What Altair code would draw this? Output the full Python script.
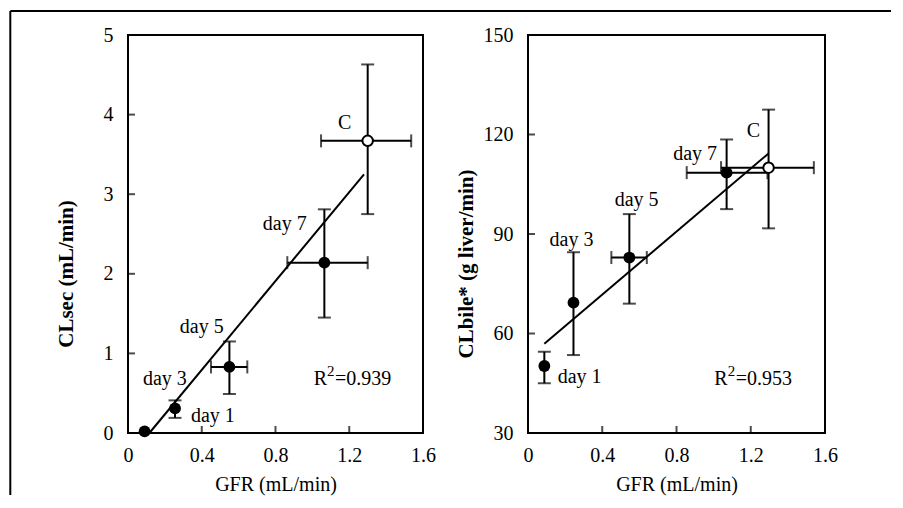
import altair as alt
import pandas as pd

FONT = "Liberation Serif, Times New Roman, Times, serif"

# ---------------- data ----------------
labels = ["day 1", "day 3", "day 5", "day 7", "C"]

# left panel: CLsec vs GFR
gfr_l = [0.09, 0.255, 0.55, 1.065, 1.30]
gfr_l_lo = [None, None, 0.45, 0.864, 1.047]
gfr_l_hi = [None, None, 0.647, 1.30, 1.536]
clsec = [0.02, 0.31, 0.83, 2.14, 3.67]
clsec_lo = [None, 0.19, 0.49, 1.45, 2.75]
clsec_hi = [None, 0.41, 1.15, 2.81, 4.63]
fit_l_x = [0.116, 1.28]
fit_l_y = [0.0, 3.25]
lab_l_text = ["C", "day 7", "day 5", "day 3", "day 1"]
lab_l_x = [1.175, 0.85, 0.40, 0.20, 0.46]
lab_l_y = [3.9, 2.63, 1.33, 0.68, 0.21]
r2_l = {"val": "=0.939", "x": 1.21, "y": 0.68}

# right panel: CLbile* vs GFR
gfr_r = [0.088, 0.245, 0.546, 1.07, 1.296]
gfr_r_lo = [None, None, 0.449, 0.855, 1.04]
gfr_r_hi = [None, None, 0.64, 1.29, 1.54]
clbile = [50.2, 69.3, 82.9, 108.5, 110.0]
clbile_lo = [45.0, 53.5, 69.0, 97.5, 91.7]
clbile_hi = [54.5, 84.5, 96.0, 118.5, 127.5]
fit_r_x = [0.088, 1.296]
fit_r_y = [56.9, 114.3]
lab_r_text = ["C", "day 7", "day 5", "day 3", "day 1"]
lab_r_x = [1.215, 0.90, 0.585, 0.234, 0.278]
lab_r_y = [121.2, 114.0, 100.4, 88.3, 46.9]
r2_r = {"val": "=0.953", "x": 1.205, "y": 46.3}

x_ticks = [0, 0.4, 0.8, 1.2, 1.6]
x_inner_ticks = [0.4, 0.8, 1.2]
y_ticks_l = [0, 1, 2, 3, 4, 5]
y_inner_ticks_l = [1, 2, 3, 4]
y_ticks_r = [30, 60, 90, 120, 150]
y_inner_ticks_r = [60, 90, 120]

W_L, W_R, H = 295, 297, 398


def panel(gx, gxlo, gxhi, yv, ylo, yhi, fx, fy, lt, lx, ly, r2,
          ydom, yticks, yinner, ytitle, title_y, width, frame):
    pts = pd.DataFrame({"label": labels, "x": gx, "xlo": gxlo, "xhi": gxhi,
                        "y": yv, "lo": ylo, "hi": yhi})
    fit = pd.DataFrame({"x": fx, "y": fy})
    lab = pd.DataFrame({"t": lt, "x": lx, "y": ly})
    r2df = pd.DataFrame([r2])

    xaxis = alt.Axis(values=x_ticks, ticks=False, tickSize=0, domain=False, grid=False,
                     labelExpr="datum.value == 0 ? '0' : format(datum.value, '.1f')",
                     labelFont=FONT, labelFontSize=20, labelColor="black",
                     labelPadding=12, labelFlush=False,
                     titleFont=FONT, titleFontSize=20, titleFontWeight="normal",
                     titleColor="black", titleY=51, titleBaseline="middle")
    yaxis = alt.Axis(values=yticks, ticks=False, tickSize=0, domain=False, grid=False,
                     labelFont=FONT, labelFontSize=20, labelColor="black",
                     labelPadding=15,
                     titleFont=FONT, titleFontSize=21, titleFontWeight="bold",
                     titleColor="black", titleX=-62, titleY=title_y,
                     titleAngle=270, titleAlign="center", titleBaseline="middle")
    xs = alt.Scale(domain=[0, 1.6], nice=False, zero=False)
    ys = alt.Scale(domain=ydom, nice=False, zero=False)

    def X(f):
        return alt.X(f"{f}:Q", scale=xs, axis=xaxis, title="GFR (mL/min)")

    def Y(f):
        return alt.Y(f"{f}:Q", scale=ys, axis=yaxis, title=ytitle)

    line = alt.Chart(fit).mark_line(color="black", strokeWidth=2).encode(x=X("x"), y=Y("y"))

    yerr = alt.Chart(pts).transform_filter("isValid(datum.lo)").mark_rule(
        color="black", strokeWidth=2).encode(x=X("x"), y=Y("lo"), y2="hi:Q")
    ycaps = alt.Chart(pts).transform_filter("isValid(datum.lo)").transform_fold(
        ["lo", "hi"], as_=["k", "v"]).mark_tick(
        orient="horizontal", color="black", size=13, thickness=2).encode(x=X("x"), y=Y("v"))

    xerr = alt.Chart(pts).transform_filter("isValid(datum.xlo)").mark_rule(
        color="black", strokeWidth=2).encode(x=X("xlo"), x2="xhi:Q", y=Y("y"))
    xcaps = alt.Chart(pts).transform_filter("isValid(datum.xlo)").transform_fold(
        ["xlo", "xhi"], as_=["k", "v"]).mark_tick(
        orient="vertical", color="black", size=13, thickness=2).encode(x=X("v"), y=Y("y"))

    filled = alt.Chart(pts).transform_filter("datum.label != 'C'").mark_point(
        shape="circle", filled=True, color="black", size=140, opacity=1).encode(x=X("x"), y=Y("y"))
    openc = alt.Chart(pts).transform_filter("datum.label == 'C'").mark_point(
        shape="circle", filled=True, fill="white", stroke="black", strokeWidth=2,
        size=110, opacity=1).encode(x=X("x"), y=Y("y"))

    text = alt.Chart(lab).mark_text(font=FONT, fontSize=20, color="black",
                                    align="center", baseline="middle").encode(
        x=X("x"), y=Y("y"), text="t:N")

    r_base = alt.Chart(r2df).mark_text(font=FONT, fontSize=20, color="black",
                                       align="right", baseline="middle", dx=-24).encode(
        x=X("x"), y=Y("y"), text=alt.value("R"))
    r_sup = alt.Chart(r2df).mark_text(font=FONT, fontSize=15, color="black",
                                      align="left", baseline="middle", dx=-24, dy=-8).encode(
        x=X("x"), y=Y("y"), text=alt.value("2"))
    r_val = alt.Chart(r2df).mark_text(font=FONT, fontSize=20, color="black",
                                      align="left", baseline="middle", dx=-16).encode(
        x=X("x"), y=Y("y"), text="val:N")

    yt = alt.Chart(pd.DataFrame({"v": yinner})).mark_tick(
        orient="horizontal", color="black", size=8, thickness=2, xOffset=3).encode(
        x=alt.value(0), y=Y("v"))
    xt = alt.Chart(pd.DataFrame({"v": x_inner_ticks})).mark_tick(
        orient="vertical", color="black", size=8, thickness=2, yOffset=-3).encode(
        x=X("v"), y=alt.value(H))

    layers = [line, yerr, ycaps, xerr, xcaps, filled, openc, text, r_base, r_sup, r_val, yt, xt]
    if frame:
        one = pd.DataFrame({"k": [0]})
        top = alt.Chart(one).mark_rule(color="black", strokeWidth=2).encode(
            x=alt.value(-117.7), x2=alt.value(763), y=alt.value(-24))
        left = alt.Chart(one).mark_rule(color="black", strokeWidth=2).encode(
            x=alt.value(-117.7), y=alt.value(-24), y2=alt.value(460))
        layers += [top, left]
    return alt.layer(*layers).properties(width=width, height=H)


left = panel(gfr_l, gfr_l_lo, gfr_l_hi, clsec, clsec_lo, clsec_hi, fit_l_x, fit_l_y,
             lab_l_text, lab_l_x, lab_l_y, r2_l, [0, 5], y_ticks_l, y_inner_ticks_l,
             "CLsec (mL/min)", 238.5, W_L, True)
right = panel(gfr_r, gfr_r_lo, gfr_r_hi, clbile, clbile_lo, clbile_hi, fit_r_x, fit_r_y,
              lab_r_text, lab_r_x, lab_r_y, r2_r, [30, 150], y_ticks_r, y_inner_ticks_r,
              "CLbile* (g liver/min)", 228.5, W_R, False)

chart = alt.hconcat(left, right, spacing=105, bounds="flush").properties(
    padding={"left": 0, "top": 1, "right": 0, "bottom": 0},
    background="white",
).configure_view(stroke="black", strokeWidth=2)

chart.save("out.html", embed_options={"renderer": "svg", "actions": False})
